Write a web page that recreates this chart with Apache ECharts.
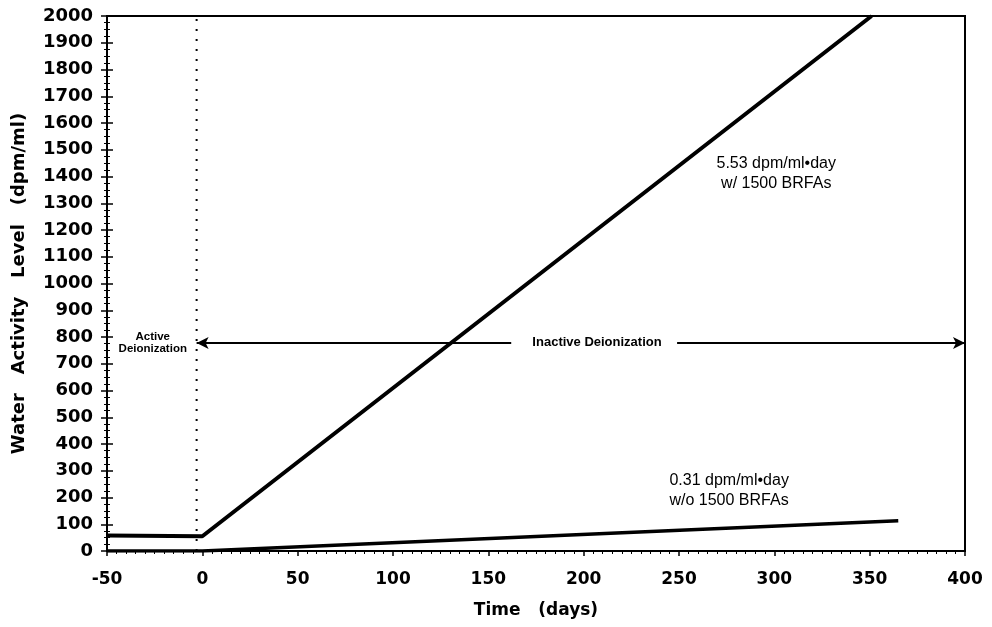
<!DOCTYPE html>
<html>
<head>
<meta charset="utf-8">
<script src="https://cdn.jsdelivr.net/npm/echarts@6/dist/echarts.min.js"></script>
<style>html,body{margin:0;padding:0;background:#fff}#c{width:992px;height:627px}</style>
</head>
<body>
<div id="c"></div>
<script>
// Data
const upperX = [-50, 0, 351];
const upperY = [58, 55, 2000];
const lowerX = [-50, 0, 365];
const lowerY = [0, 0, 113];
const dividerX = [-3, -3];
const dividerY = [0, 2000];
const arrowY = 778;
const arrowLeftX = [-3, 162];
const arrowRightX = [249, 400];
const xRange = [-50, 400];
const xStep = 50;
const yRange = [0, 2000];
const yStep = 100;
const notes = [
  { text: 'Active\nDeionization', x: -26, y: 778, align: 'center', size: 11.5 },
  { text: 'Inactive Deionization', x: 207, y: 780, align: 'center', size: 13 },
  { text: '5.53 dpm/ml\u2022day\nw/ 1500 BRFAs', x: 301, y: 1412, align: 'center', size: 16 },
  { text: '0.31 dpm/ml\u2022day\nw/o 1500 BRFAs', x: 245, y: 226, align: 'left', size: 16 }
];

const zip = (a, b) => a.map((v, i) => [v, b[i]]);
const bold = { fontFamily: 'DejaVu Sans', fontWeight: 'bold', color: '#000' };

const chart = echarts.init(document.getElementById('c'));
const option = {
  animation: false,
  backgroundColor: '#fff',
  grid: { left: 107, right: 27, top: 16, bottom: 76, show: true, borderColor: '#000', borderWidth: 2, backgroundColor: 'transparent' },
  xAxis: {
    type: 'value', min: xRange[0], max: xRange[1], interval: xStep,
    axisLine: { onZero: false, lineStyle: { color: '#000', width: 2 } },
    axisTick: { length: 5, lineStyle: { color: '#000', width: 1.5 } },
    minorTick: { show: true, splitNumber: 10, length: 3, lineStyle: { color: '#000', width: 1 } },
    splitLine: { show: false },
    axisLabel: Object.assign({ fontSize: 17, margin: 20, formatter: v => String(v) }, bold),
    name: 'Time   (days)', nameLocation: 'middle', nameGap: 51,
    nameTextStyle: Object.assign({ fontSize: 17 }, bold)
  },
  yAxis: [{
    type: 'value', min: yRange[0], max: yRange[1], interval: yStep,
    axisLine: { onZero: false, lineStyle: { color: '#000', width: 2 } },
    axisTick: { length: 6, lineStyle: { color: '#000', width: 1.5 } },
    minorTick: { show: true, splitNumber: 4, length: 3, lineStyle: { color: '#000', width: 1 } },
    splitLine: { show: false },
    axisLabel: Object.assign({ fontSize: 18, margin: 14, formatter: v => String(v) }, bold),
    name: 'Water   Activity   Level   (dpm/ml)', nameLocation: 'middle', nameGap: 79,
    nameTextStyle: Object.assign({ fontSize: 18 }, bold)
  }, {
    type: 'value', min: yRange[0], max: yRange[1], interval: yStep, position: 'left',
    axisLine: { show: false, onZero: false },
    axisTick: { inside: true, length: 6, lineStyle: { color: '#000', width: 1.5 } },
    minorTick: { show: true, splitNumber: 4, length: 3, lineStyle: { color: '#000', width: 1 } },
    splitLine: { show: false },
    axisLabel: { show: false }
  }],
  series: [
    {
      type: 'line', data: zip(upperX, upperY), symbol: 'none', silent: true,
      lineStyle: { color: '#000', width: 4 }
    },
    {
      type: 'line', data: zip(lowerX, lowerY), symbol: 'none', silent: true,
      lineStyle: { color: '#000', width: 3.5 }
    },
    {
      type: 'line', data: zip(dividerX, dividerY), symbol: 'none', silent: true,
      lineStyle: { color: '#000', width: 2, type: [2, 8] },
      markLine: {
        silent: true, animation: false,
        lineStyle: { color: '#000', width: 2, type: 'solid' },
        symbolSize: [9, 12],
        label: { show: false },
        data: [
          [{ coord: [arrowLeftX[0], arrowY], symbol: 'arrow' }, { coord: [arrowLeftX[1], arrowY], symbol: 'none' }],
          [{ coord: [arrowRightX[0], arrowY], symbol: 'none' }, { coord: [arrowRightX[1], arrowY], symbol: 'arrow' }]
        ]
      },
      markPoint: {
        silent: true, animation: false, symbol: 'circle', symbolSize: 0,
        data: notes.map(n => ({
          coord: [n.x, n.y],
          label: {
            show: true, position: [0, 0], formatter: n.text, align: n.align, verticalAlign: 'middle',
            fontFamily: 'Liberation Sans, Arial, sans-serif', fontWeight: n.size < 14 ? 'bold' : 'normal',
            fontSize: n.size, lineHeight: n.size < 14 ? 12 : 20, color: '#000'
          }
        }))
      }
    }
  ]
};
chart.setOption(option);
</script>
</body>
</html>
